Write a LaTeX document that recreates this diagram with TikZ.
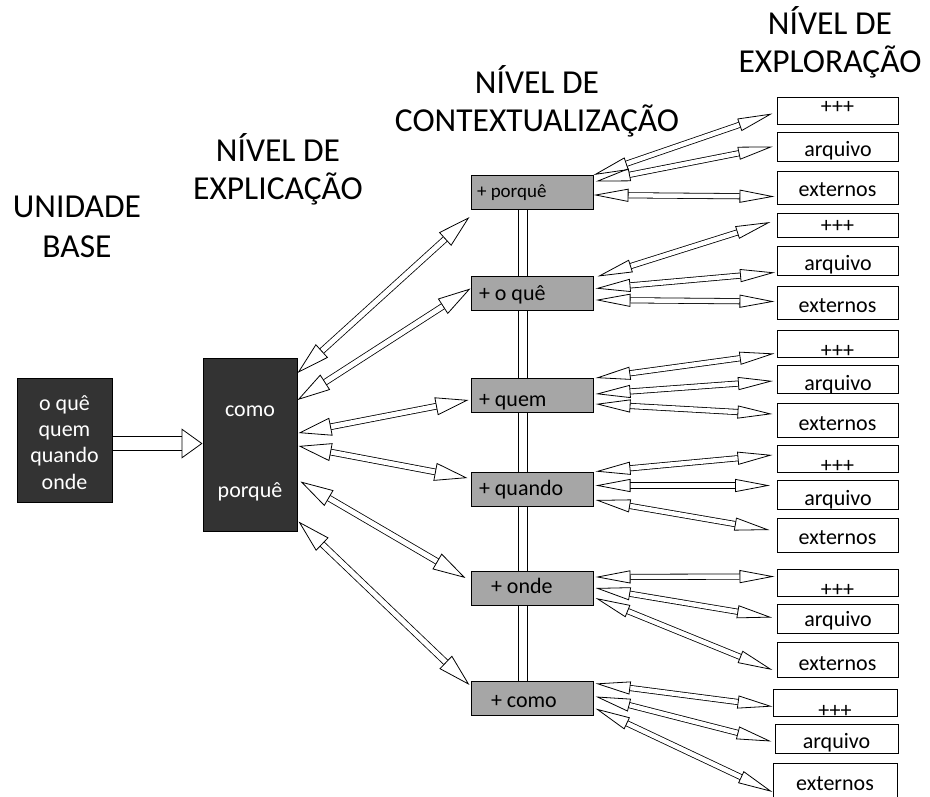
\documentclass[tikz,border=0pt]{standalone}
\usepackage{fontspec}
\setmainfont{Carlito}
\usetikzlibrary{arrows.meta,backgrounds}

\definecolor{boxdark}{RGB}{51,51,51}
\definecolor{boxgray}{RGB}{166,166,166}

% text inside a box: lowered by #1 (baseline below the centre)
\newcommand{\lowtext}[2]{\raisebox{-#1pt}{#2}}
% left aligned text in the gray boxes
\newcommand{\ctxtext}[3]{\raisebox{-#1pt}{\makebox[112pt][l]{\hspace*{#2pt}#3}}}

\begin{document}
\begin{tikzpicture}[x=1pt,y=-1pt,
  title/.style={align=center,anchor=base,font=\fontsize{33.5}{38}\selectfont},
  darkbox/.style={draw,fill=boxdark,text=white,line width=1pt,inner sep=0pt,
    text height=0pt,text depth=0pt,font=\fontsize{22}{26.3}\selectfont},
  ctxbox/.style={draw,fill=boxgray,line width=1pt,minimum width=122pt,minimum height=34pt,
    inner sep=0pt,text height=0pt,text depth=0pt,font=\fontsize{22}{26}\selectfont},
  expbox/.style={draw,fill=white,line width=1pt,minimum width=121pt,minimum height=28pt,
    inner sep=0pt,text height=0pt,text depth=0pt,font=\fontsize{22}{26}\selectfont},
  bigarrow/.style={double,double distance=5pt,line width=0.8pt,
    {Triangle[open,length=33pt,width=18pt,line width=0.8pt]}-{Triangle[open,length=33pt,width=18pt,line width=0.8pt]}},
  ctxarrow/.style={double,double distance=4.5pt,line width=0.8pt,
    {Triangle[open,length=35pt,width=13pt,line width=0.8pt]}-{Triangle[open,length=35pt,width=13pt,line width=0.8pt]}}
]
\useasboundingbox (0,0) rectangle (930,796);

% titles (anchor on the last line)
\node[title,font=\fontsize{33.5}{40}\selectfont] (tbase) at (77,257) {UNIDADE\\BASE};
\node[title] (texpl) at (278,199) {NÍVEL DE\\EXPLICAÇÃO};
\node[title] (tctx) at (537,131) {NÍVEL DE\\CONTEXTUALIZAÇÃO};
\node[title] (texp) at (830,72) {NÍVEL DE\\EXPLORAÇÃO};

% base unit and explanation
\node[darkbox,minimum width=95pt,minimum height=124pt] (base) at (64.5,440)
  {\lowtext{9.7}{\begin{tabular}{@{}c@{}}o quê\\quem\\quando\\onde\end{tabular}}};
\node[darkbox,minimum width=94pt,minimum height=173pt] (expl) at (250,444.5)
  {\lowtext{12.5}{\begin{tabular}{@{}c@{}}como\\[54pt]porquê\end{tabular}}};

% context level
\node[ctxbox] (cporque) at (532,192.5) {\fontsize{19}{21}\selectfont\ctxtext{4.5}{1}{+ porquê}};
\node[ctxbox] (coque) at (532,293.5) {\ctxtext{6.5}{3}{+ o quê}};
\node[ctxbox] (cquem) at (532,395) {\ctxtext{11}{3}{+ quem}};
\node[ctxbox] (cquando) at (532,489.5) {\ctxtext{5.5}{3}{+ quando}};
\node[ctxbox] (conde) at (532,588) {\ctxtext{5}{15}{+ onde}};
\node[ctxbox] (ccomo) at (532,698.5) {\ctxtext{8.5}{15}{+ como}};

% exploration level
\node[expbox,minimum height=27pt] (e11) at (837.5,110.5) {\lowtext{3}{+++}};
\node[expbox,minimum height=29pt] (e12) at (838,146.5) {\lowtext{10}{arquivo}};
\node[expbox,minimum height=33pt] (e13) at (837.5,187.5) {\lowtext{8.5}{externos}};
\node[expbox,minimum height=24pt] (e21) at (837.5,225) {\lowtext{7.7}{+++}};
\node[expbox,minimum height=29pt] (e22) at (838,260.5) {\lowtext{9.5}{arquivo}};
\node[expbox,minimum height=33pt] (e23) at (837.5,302.5) {\lowtext{9.5}{externos}};
\node[expbox,minimum height=27pt] (e31) at (837.5,343.5) {\lowtext{14}{+++}};
\node[expbox,minimum height=28pt] (e32) at (838,379) {\lowtext{11}{arquivo}};
\node[expbox,minimum height=34pt] (e33) at (837.5,420) {\lowtext{10}{externos}};
\node[expbox,minimum height=27pt] (e41) at (837.5,458.5) {\lowtext{14}{+++}};
\node[expbox,minimum height=29pt] (e42) at (838,494.5) {\lowtext{10.5}{arquivo}};
\node[expbox,minimum height=34pt] (e43) at (837.5,535) {\lowtext{9}{externos}};
\node[expbox,minimum height=27pt] (e51) at (837.5,582.5) {\lowtext{14}{+++}};
\node[expbox,minimum height=29pt] (e52) at (838,618.5) {\lowtext{8}{arquivo}};
\node[expbox,minimum height=35pt] (e53) at (837.5,659.5) {\lowtext{10.5}{externos}};
\node[expbox,minimum width=124pt,minimum height=27pt] (e61) at (835,702.5) {\lowtext{15}{+++}};
\node[expbox,minimum width=123pt,minimum height=29pt] (e62) at (836.5,738.5) {\lowtext{9.5}{arquivo}};
\node[expbox,minimum width=124pt,minimum height=34pt] (e63) at (835,780) {\lowtext{10.5}{externos}};

% double bar behind the gray boxes
\begin{scope}[on background layer]
\draw[double,double distance=8pt,line width=1pt] ([xshift=-9pt]cporque.south) -- ([xshift=-9pt]ccomo.north);
\end{scope}

% base -> explanation
\draw[double,double distance=13pt,line width=0.8pt,-{Triangle[open,length=21pt,width=30pt,line width=0.8pt]}]
  ([shift={(0,3.5)}]base.east) -- ([shift={(0,-1)}]expl.west);

% explanation <-> context
\draw[bigarrow] ([shift={(0,-71.5)}]expl.east) -- ([shift={(-1,24.5)}]cporque.west);
\draw[bigarrow] ([shift={(0,-44.5)}]expl.east) -- ([shift={(0,-5)}]coque.west);
\draw[bigarrow] ([shift={(1,-11.5)}]expl.east) -- ([shift={(-2,5)}]cquem.west);
\draw[bigarrow] ([shift={(1,1.5)}]expl.east) -- ([shift={(-3,-11.5)}]cquando.west);
\draw[bigarrow] ([shift={(3,37)}]expl.east) -- ([shift={(-5,-10)}]conde.west);
\draw[bigarrow] ([shift={(1,77)}]expl.east) -- ([shift={(-1,-13.5)}]ccomo.west);

% context <-> exploration
\draw[ctxarrow] ([shift={(0,-17.5)}]cporque.east) -- ([shift={(-4,3)}]e11.west);
\draw[ctxarrow] ([shift={(2,-11)}]cporque.east) -- ([shift={(-4,0)}]e12.west);
\draw[ctxarrow] ([shift={(0,2.5)}]cporque.east) -- ([shift={(-2,9)}]e13.west);
\draw[ctxarrow] ([shift={(4,-17)}]coque.east) -- ([shift={(-6,-3)}]e21.west);
\draw[ctxarrow] ([shift={(2,-5)}]coque.east) -- ([shift={(-2,12)}]e22.west);
\draw[ctxarrow] ([shift={(2,6.5)}]coque.east) -- ([shift={(-2,-1)}]e23.west);
\draw[ctxarrow] ([shift={(2,-17)}]cquem.east) -- ([shift={(-2,10)}]e31.west);
\draw[ctxarrow] ([shift={(2,-1)}]cquem.east) -- ([shift={(-4,2)}]e32.west);
\draw[ctxarrow] ([shift={(2,9)}]cquem.east) -- ([shift={(-4,-6)}]e33.west);
\draw[ctxarrow] ([shift={(2,-18)}]cquando.east) -- ([shift={(-4,-3.5)}]e41.west);
\draw[ctxarrow] ([shift={(2,-4)}]cquando.east) -- ([shift={(-7,-9)}]e42.west);
\draw[ctxarrow] ([shift={(2,10.5)}]cquando.east) -- ([shift={(-7,-5)}]e43.west);
\draw[ctxarrow] ([shift={(2,-11)}]conde.east) -- ([shift={(-2,-6)}]e51.west);
\draw[ctxarrow] ([shift={(2,0)}]conde.east) -- ([shift={(-5,-1)}]e52.west);
\draw[ctxarrow] ([shift={(2,10)}]conde.east) -- ([shift={(-4,10.5)}]e53.west);
\draw[ctxarrow] ([shift={(2,-15)}]ccomo.east) -- ([shift={(0,4)}]e61.west);
\draw[ctxarrow] ([shift={(2,-2)}]ccomo.east) -- ([shift={(-3,3)}]e62.west);
\draw[ctxarrow] ([shift={(2,10)}]ccomo.east) -- ([shift={(0,12)}]e63.west);
\end{tikzpicture}
\end{document}
